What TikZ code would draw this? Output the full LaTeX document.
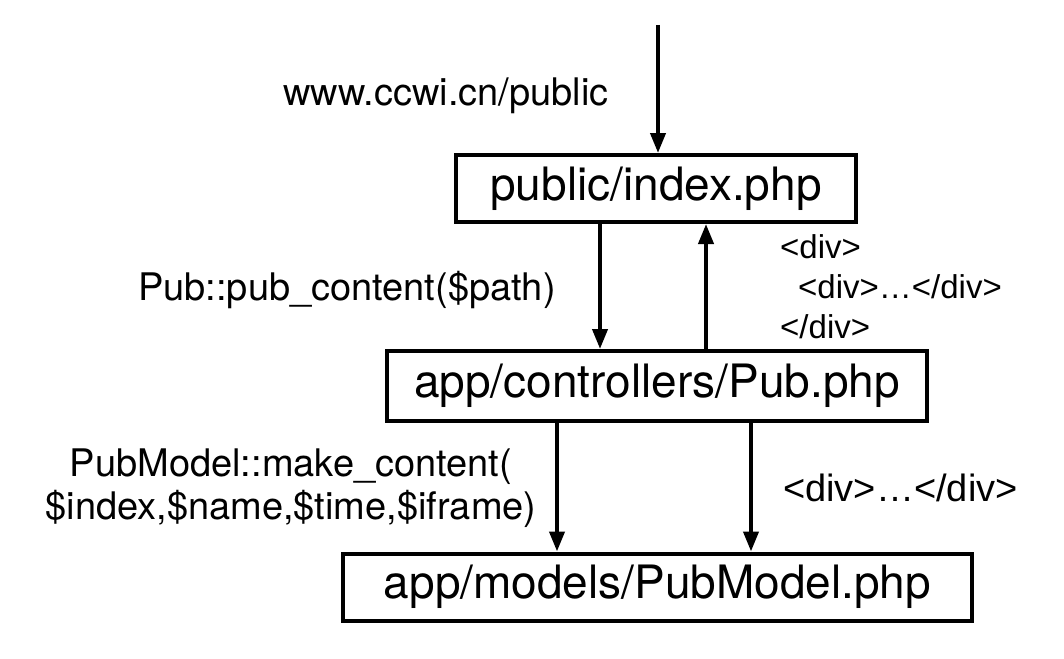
\documentclass[tikz,border=0pt]{standalone}
\usepackage{fontspec}
\setmainfont{TeX Gyre Heros}
\newfontfamily\divfont[Ligatures=NoCommon]{Liberation Sans}
\newcommand{\lt}{\symbol{"003C}}
\newcommand{\gt}{\symbol{"003E}}
\usetikzlibrary{arrows.meta}
\begin{document}
\begin{tikzpicture}[x=1pt,y=-1pt,
  box/.style={draw, line width=4pt, inner sep=0pt, font=\fontsize{46}{50}\selectfont},
  arr/.style={line width=4pt, -{Triangle[width=15pt,length=20pt]}},
  lbl/.style={inner sep=0pt, font=\fontsize{38}{43}\selectfont},
  dlbl/.style={inner sep=0pt, font=\divfont\fontsize{33}{40}\selectfont, align=left},
  dlblb/.style={inner sep=0pt, font=\divfont\fontsize{38}{42}\selectfont}]
\useasboundingbox (0,0) rectangle (1064,658);
\fill[white] (0,0) rectangle (1064,658);

\node[box, minimum width=400pt, minimum height=67pt] (b1) at (656,188.5) {public/index.php};
\node[box, minimum width=540pt, minimum height=70pt] (b2) at (657,386) {app/controllers/Pub.php};
\node[box, minimum width=629pt, minimum height=67pt] (b3) at (657.5,587) {app/models/PubModel.php};

\node[lbl, anchor=west] (l1) at (283,96) {www.ccwi.cn/public};
\node[lbl, anchor=west] (l2) at (138,290) {Pub::pub\_content(\$path)};
\node[lbl, align=center] (l3) at (291,488) {PubModel::make\_content(\\\$index,\$name,\$time,\$iframe)};
\node[dlbl, anchor=west] (l4) at (780,287) {\lt div\gt\\\hspace*{18pt}\lt div\gt…\lt/div\gt\\\lt/div\gt};
\node[dlblb, anchor=west] (l5) at (783,488) {\lt div\gt…\lt/div\gt};

\coordinate (src) at (658,25);
\coordinate (xa) at (600,0);
\coordinate (xb) at (706,0);
\coordinate (xc) at (557,0);
\coordinate (xd) at (751,0);
\draw[arr] (src) -- (src |- b1.north);
\draw[arr] (xa |- b1.south) -- (xa |- b2.north);
\draw[arr] (xb |- b2.north) -- (xb |- b1.south);
\draw[arr] (xc |- b2.south) -- (xc |- b3.north);
\draw[arr] (xd |- b2.south) -- (xd |- b3.north);
\end{tikzpicture}
\end{document}
